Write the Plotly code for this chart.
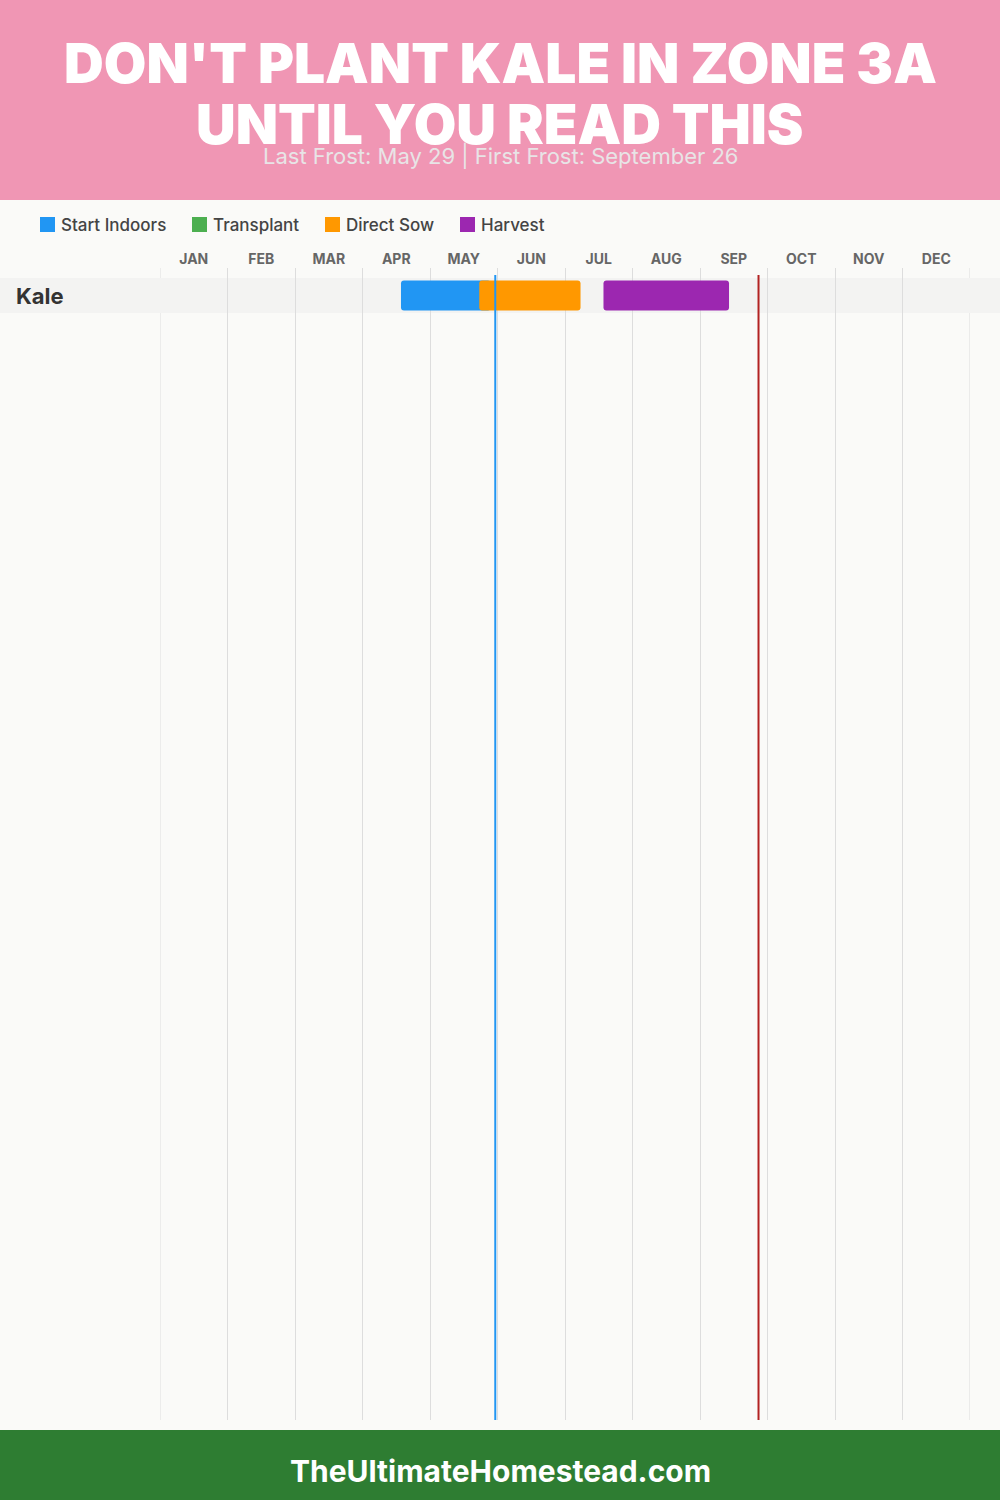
import plotly.graph_objects as go

# ---------------- data ----------------
months = ["JAN", "FEB", "MAR", "APR", "MAY", "JUN", "JUL", "AUG", "SEP", "OCT", "NOV", "DEC"]
crops = ["Kale"]
stages = ["Start Indoors", "Transplant", "Direct Sow", "Harvest"]
stage_colors = ["#2196F3", "#4CAF50", "#FF9800", "#9C27B0"]

# positions in months since Jan 1 (month index + day/30)
start_indoors_start = [3.57]
start_indoors_end = [4.90]
transplant_start = []
transplant_end = []
direct_sow_start = [4.73]
direct_sow_end = [6.23]
harvest_start = [6.57]
harvest_end = [8.43]

last_frost = 4.967    # May 29
first_frost = 8.867   # September 26

title_lines = ["DON'T PLANT KALE IN ZONE 3A", "UNTIL YOU READ THIS"]
subtitle = "Last Frost: May 29 | First Frost: September 26"
footer = "TheUltimateHomestead.com"

# ---------------- layout geometry ----------------
W, H = 1000, 1500
L, R, T, B = 160, 30, 268, 80
PW, PH = W - L - R, H - T - B
ROW_PX = 35.0
ROW_CENTER = 295.5


def xp(px):
    return (px - L) / PW


def yp(py):
    return (H - B - py) / PH


def yd(py):
    return (py - ROW_CENTER) / ROW_PX


fig = go.Figure()

series = [
    (start_indoors_start, start_indoors_end, stage_colors[0], stages[0]),
    (transplant_start, transplant_end, stage_colors[1], stages[1]),
    (direct_sow_start, direct_sow_end, stage_colors[2], stages[2]),
    (harvest_start, harvest_end, stage_colors[3], stages[3]),
]
for s, e, c, name in series:
    if not s:
        continue
    fig.add_trace(go.Bar(
        y=crops[:len(s)], base=s, x=[b - a for a, b in zip(s, e)],
        orientation="h", width=30 / ROW_PX, marker=dict(color=c, line=dict(width=0)),
        name=name, showlegend=False, hoverinfo="skip",
    ))

shapes = []
annotations = []

# header
shapes.append(dict(type="rect", xref="paper", yref="paper", x0=xp(0), x1=xp(W), y0=yp(200), y1=yp(0),
                   fillcolor="#F096B4", line=dict(width=0), layer="below"))
# footer
shapes.append(dict(type="rect", xref="paper", yref="paper", x0=xp(0), x1=xp(W), y0=yp(H), y1=yp(1430),
                   fillcolor="#2E7D32", line=dict(width=0), layer="below"))
# outer month boundary lines (start of JAN, end of DEC)
for bx in (0, len(months)):
    shapes.append(dict(type="line", xref="x", yref="paper", x0=bx, x1=bx, y0=0, y1=1,
                       line=dict(color="#DDDDDD", width=1), layer="below"))
# row band
for i, crop in enumerate(crops):
    shapes.append(dict(type="rect", xref="paper", yref="y", x0=xp(0), x1=xp(W), y0=i - 0.5, y1=i + 0.5,
                       fillcolor="#F3F3F2", line=dict(width=0), layer="between"))
    annotations.append(dict(text=crop, xref="paper", yref="y", x=xp(14), y=i, xanchor="left", yanchor="middle",
                            showarrow=False, font=dict(family="Inter", size=22, color="#333333", weight=700)))

# frost lines
shapes.append(dict(type="line", xref="x", yref="y", x0=last_frost, x1=last_frost, y0=yd(275), y1=yd(H - B),
                   line=dict(color="#2196F3", width=2), layer="above"))
shapes.append(dict(type="line", xref="x", yref="y", x0=first_frost, x1=first_frost, y0=yd(275), y1=yd(H - B),
                   line=dict(color="#B22222", width=2), layer="above"))

# title
for k, line in enumerate(title_lines):
    annotations.append(dict(text=line, xref="paper", yref="paper", x=xp(500), y=yp(63 + 61 * k),
                            xanchor="center", yanchor="middle", showarrow=False,
                            font=dict(family="Inter", size=55, color="white", weight=900)))
annotations.append(dict(text=subtitle, xref="paper", yref="paper", x=xp(500), y=yp(155),
                        xanchor="center", yanchor="middle", showarrow=False,
                        font=dict(family="Inter", size=22, color="#E8E4E6")))
annotations.append(dict(text=footer, xref="paper", yref="paper", x=xp(500), y=yp(1471),
                        xanchor="center", yanchor="middle", showarrow=False,
                        font=dict(family="Inter", size=30, color="white", weight=700)))

# legend
legend_x = [40, 192, 325, 460]
for lx, name, c in zip(legend_x, stages, stage_colors):
    shapes.append(dict(type="rect", xref="paper", yref="paper", x0=xp(lx), x1=xp(lx + 15), y0=yp(232), y1=yp(217),
                       fillcolor=c, line=dict(width=0)))
    annotations.append(dict(text=name, xref="paper", yref="paper", x=xp(lx + 19), y=yp(225),
                            xanchor="left", yanchor="middle", showarrow=False,
                            font=dict(family="Inter", size=17, color="#444444", weight=500)))

fig.update_layout(
    width=W, height=H, margin=dict(l=L, r=R, t=T, b=B),
    paper_bgcolor="#FAFAF8", plot_bgcolor="#FAFAF8",
    barmode="overlay", barcornerradius=3, showlegend=False,
    shapes=shapes, annotations=annotations,
    xaxis=dict(range=[0, 12], side="top", tickmode="array",
               tickvals=[i + 0.5 for i in range(12)], ticktext=months,
               showgrid=False, zeroline=False, showline=False, ticks="",
               tickfont=dict(family="Inter", size=14, color="#666666", weight=700),
               minor=dict(tickmode="array", tickvals=list(range(13)), showgrid=True,
                          gridcolor="#DDDDDD", gridwidth=1, ticks=""),
               fixedrange=True),
    yaxis=dict(type="category", categoryarray=crops, range=[yd(H - B), yd(T)],
               showticklabels=False, showgrid=False, zeroline=False, showline=False, ticks="",
               fixedrange=True),
)

fig.write_html("out.html", config={"displayModeBar": False, "staticPlot": True},
               post_script="document.body.style.margin='0';")
